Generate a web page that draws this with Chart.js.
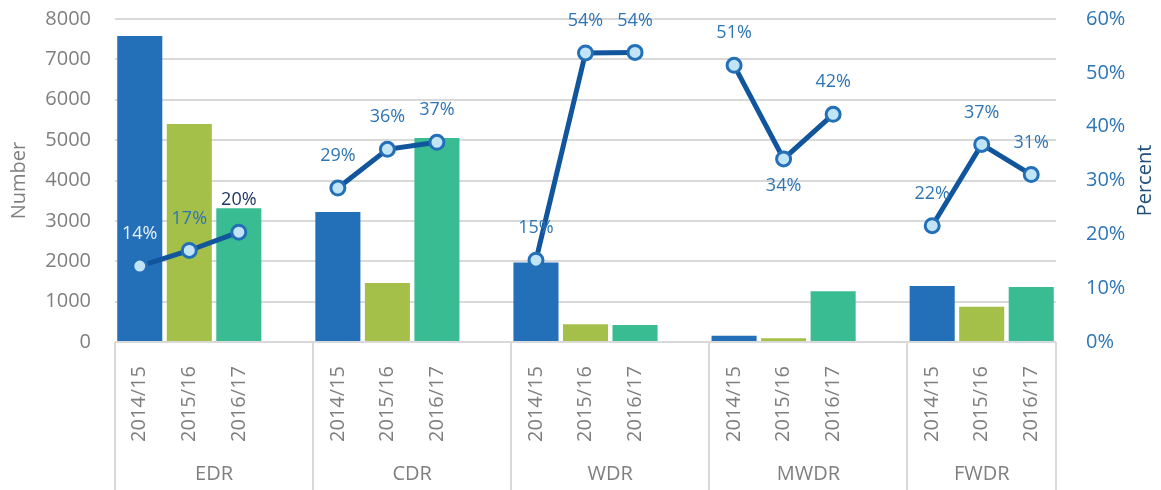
<!DOCTYPE html>
<html>
<head>
<meta charset="utf-8">
<script src="https://cdn.jsdelivr.net/npm/chart.js@4/dist/chart.umd.min.js"></script>
<style>
  body { margin: 0; background: #fff; }
  #wrap { width: 1161px; height: 490px; }
</style>
</head>
<body>
<div id="wrap"><canvas id="chart" width="1161" height="490"></canvas></div>
<script>
// regions and years (multi-level category axis)
const regions = ['EDR', 'CDR', 'WDR', 'MWDR', 'FWDR'];
const years = ['2014/15', '2015/16', '2016/17'];

// number of cases per region, one value per year
const edrCounts = [7580, 5400, 3310];
const cdrCounts = [3220, 1460, 5050];
const wdrCounts = [1970, 440, 420];
const mwdrCounts = [155, 90, 1260];
const fwdrCounts = [1390, 870, 1360];

// percent per region, one value per year
const edrPct = [0.141, 0.170, 0.204];
const cdrPct = [0.286, 0.358, 0.371];
const wdrPct = [0.152, 0.537, 0.538];
const mwdrPct = [0.514, 0.340, 0.423];
const fwdrPct = [0.216, 0.367, 0.311];

// axis ticks
const numberTicks = [0, 1000, 2000, 3000, 4000, 5000, 6000, 7000, 8000];
const percentTicks = [0, 0.1, 0.2, 0.3, 0.4, 0.5, 0.6];

const yearColors = ['#2370B8', '#A5C049', '#3ABC92'];
const allCounts = [edrCounts, cdrCounts, wdrCounts, mwdrCounts, fwdrCounts];
const allPct = [edrPct, cdrPct, wdrPct, mwdrPct, fwdrPct];

// build flat category list, with an empty slot between regions
const labels = [], barData = [], barColors = [], lineData = [], groupOf = [];
regions.forEach((r, g) => {
    years.forEach((y, i) => {
        labels.push(y);
        barData.push(allCounts[g][i]);
        barColors.push(yearColors[i]);
        lineData.push(allPct[g][i]);
        groupOf.push(g);
    });
    if (g < regions.length - 1) {
        labels.push('');
        barData.push(null);
        barColors.push('#fff');
        lineData.push(null);
        groupOf.push(g);
    }
});

const grey = '#7F7F7F';
const font = {family: 'Open Sans', size: 20};

// draws the percent labels, the region row of the x axis and the right title
const extras = {
    id: 'extras',
    afterDatasetsDraw(chart) {
        const ctx = chart.ctx;
        const meta = chart.getDatasetMeta(0);
        ctx.save();
        ctx.font = '18px "Open Sans"';
        ctx.textAlign = 'center';
        ctx.textBaseline = 'middle';
        meta.data.forEach((pt, i) => {
            const v = lineData[i];
            if (v === null) return;
            let color = '#2E75B6';
            if (i === 0) color = '#EAF2FA';
            if (i === 2) color = '#1F3864';
            const below = i === 13;
            ctx.fillStyle = color;
            ctx.fillText(Math.round(v * 100) + '%', pt.x, pt.y + (below ? 27 : -32));
        });
        ctx.restore();
    },
    afterDraw(chart) {
        const ctx = chart.ctx;
        const x = chart.scales.x;
        const area = chart.chartArea;
        const half = (x.getPixelForValue(1) - x.getPixelForValue(0)) / 2;
        ctx.save();
        ctx.strokeStyle = '#D9D9D9';
        ctx.lineWidth = 2;
        const starts = [];
        groupOf.forEach((g, i) => { if (i === 0 || groupOf[i - 1] !== g) starts.push(i); });
        const edges = starts.map(i => x.getPixelForValue(i) - half);
        edges.push(x.getPixelForValue(labels.length - 1) + half);
        edges.forEach(px => {
            ctx.beginPath();
            ctx.moveTo(Math.round(px), area.bottom);
            ctx.lineTo(Math.round(px), chart.height);
            ctx.stroke();
        });
        ctx.font = '20px "Open Sans"';
        ctx.fillStyle = grey;
        ctx.textAlign = 'center';
        ctx.textBaseline = 'middle';
        regions.forEach((r, g) => {
            ctx.fillText(r, (edges[g] + edges[g + 1]) / 2, 474);
        });
        // right axis title, reading bottom to top
        ctx.translate(1145, (area.top + area.bottom) / 2);
        ctx.rotate(-Math.PI / 2);
        ctx.fillStyle = '#1F4E79';
        ctx.fillText('Percent', 0, 0);
        ctx.restore();
    }
};

new Chart(document.getElementById('chart'), {
    data: {
        labels: labels,
        datasets: [
            {
                type: 'line',
                label: 'Percent',
                data: lineData,
                yAxisID: 'y1',
                order: 0,
                borderColor: '#11569C',
                borderWidth: 5,
                pointRadius: 7,
                pointBorderWidth: 3,
                pointBackgroundColor: '#C2E4F7',
                pointBorderColor: '#2370B8',
                spanGaps: false,
                tension: 0
            },
            {
                type: 'bar',
                label: 'Number',
                data: barData,
                yAxisID: 'y',
                order: 1,
                backgroundColor: barColors,
                barPercentage: 0.91,
                categoryPercentage: 1
            }
        ]
    },
    options: {
        responsive: false,
        animation: false,
        layout: {padding: {top: 19, left: 0, right: 0, bottom: 0}},
        plugins: {legend: {display: false}, tooltip: {enabled: false}},
        scales: {
            x: {
                grid: {display: false},
                border: {display: false},
                ticks: {
                    autoSkip: false, minRotation: 90, maxRotation: 90,
                    padding: 16, color: grey, font: font
                },
                afterFit: s => { s.height = 148; }
            },
            y: {
                position: 'left',
                min: 0, max: 8000,
                afterBuildTicks: s => { s.ticks = numberTicks.map(v => ({value: v})); },
                grid: {color: '#D9D9D9', lineWidth: 2, drawTicks: false},
                border: {display: false},
                ticks: {padding: 24, color: grey, font: font, callback: v => String(v)},
                title: {display: true, text: 'Number', color: grey, font: font, padding: {top: 7}},
                afterFit: s => { s.width = 115; s.paddingTop = 0; s.paddingBottom = 0; }
            },
            y1: {
                position: 'right',
                min: 0, max: 0.6,
                afterBuildTicks: s => { s.ticks = percentTicks.map(v => ({value: v})); },
                grid: {display: false},
                border: {display: false},
                ticks: {
                    padding: 22, color: '#2E75B6', font: font,
                    callback: v => Math.round(v * 100) + '%'
                },
                afterFit: s => { s.width = 105; s.paddingTop = 0; s.paddingBottom = 0; }
            }
        }
    },
    plugins: [extras]
});
</script>
</body>
</html>
